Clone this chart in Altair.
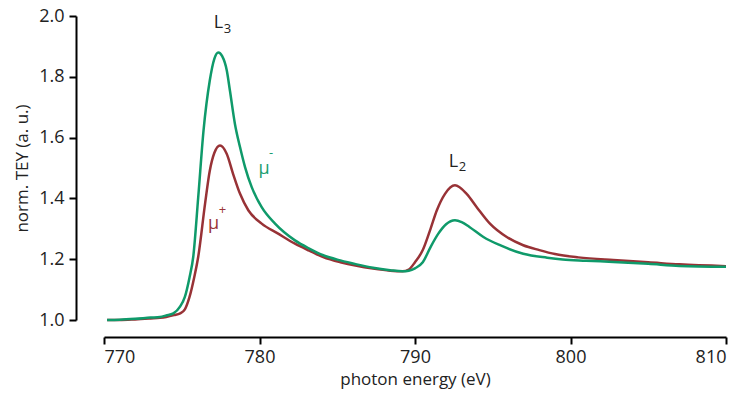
import altair as alt
import pandas as pd

# ---- data ----
energy_minus = [770.2, 771.0, 772.0, 773.0, 773.6, 774.0, 774.46, 774.9, 775.2, 775.5,
                775.74, 776.06, 776.4, 776.8, 777.1, 777.35, 777.6, 777.9, 778.1, 778.42,
                778.75, 779.07, 779.5, 780.14, 781.0, 782.28, 783.2, 784.1, 785.2, 786.25,
                787.3, 788.4, 789.2, 789.6, 790.0, 790.5, 791.0, 791.5, 792.0, 792.57,
                793.0, 793.5, 794.4, 795.47, 796.96, 798.5, 799.5, 801.0, 802.75, 805.0,
                807.0, 810.0]
mu_minus = [1.000, 1.001, 1.004, 1.008, 1.010, 1.015, 1.022, 1.045, 1.076, 1.140,
            1.208, 1.404, 1.623, 1.787, 1.860, 1.880, 1.868, 1.820, 1.754, 1.645,
            1.568, 1.503, 1.437, 1.371, 1.317, 1.262, 1.235, 1.213, 1.196, 1.183,
            1.172, 1.164, 1.160, 1.162, 1.170, 1.190, 1.240, 1.284, 1.315, 1.328,
            1.322, 1.306, 1.273, 1.246, 1.218, 1.205, 1.199, 1.195, 1.191, 1.185,
            1.178, 1.175]

energy_plus = [770.2, 771.0, 772.0, 773.0, 773.6, 774.0, 774.5, 774.9, 775.2, 775.5,
               775.8, 776.06, 776.5, 776.8, 777.1, 777.46, 777.89, 778.3, 778.75, 779.28,
               780.14, 781.2, 782.28, 783.2, 784.1, 785.2, 786.25, 787.3, 788.4, 789.2,
               789.6, 790.0, 790.5, 791.0, 791.4, 791.93, 792.57, 793.32, 793.96, 794.82,
               795.9, 796.96, 798.0, 799.0, 800.5, 802.75, 805.0, 807.0, 810.0]
mu_plus = [1.000, 1.000, 1.002, 1.005, 1.007, 1.010, 1.016, 1.022, 1.035, 1.076,
           1.140, 1.208, 1.383, 1.490, 1.550, 1.574, 1.547, 1.481, 1.415, 1.361,
           1.317, 1.284, 1.251, 1.228, 1.207, 1.190, 1.178, 1.169, 1.162, 1.160,
           1.166, 1.190, 1.230, 1.300, 1.360, 1.415, 1.443, 1.415, 1.372, 1.317,
           1.273, 1.246, 1.230, 1.217, 1.206, 1.197, 1.190, 1.183, 1.177]

x_ticks = [770, 780, 790, 800, 810]
y_ticks = [1.0, 1.2, 1.4, 1.6, 1.8, 2.0]

# annotation texts (main glyph + small index)
main_text = ["L", "L", "μ", "μ"]
main_x = [777.36, 792.48, 780.29, 777.04]
main_y = [1.977, 1.521, 1.498, 1.316]
main_col = ["#222222", "#222222", "#1a9e70", "#9a3438"]

sub_text = ["3", "2", "-", "+"]
sub_x = [777.94, 793.06, 780.74, 777.62]
sub_y = [1.957, 1.503, 1.548, 1.361]
sub_col = ["#222222", "#222222", "#1a9e70", "#9a3438"]

GREEN = "#0f9a6a"
RED = "#983236"
FONT = "Open Sans"

df_m = pd.DataFrame({"energy": energy_minus, "tey": mu_minus})
df_p = pd.DataFrame({"energy": energy_plus, "tey": mu_plus})
df_main = pd.DataFrame({"x": main_x, "y": main_y, "t": main_text, "c": main_col})
df_sub = pd.DataFrame({"x": sub_x, "y": sub_y, "t": sub_text, "c": sub_col})

x_scale = alt.Scale(domain=[770, 810], nice=False)
y_scale = alt.Scale(domain=[1.0, 2.0], nice=False, zero=False)

x_axis = alt.Axis(title="photon energy (eV)", values=x_ticks, format="d", offset=17,
                  tickSize=7, titlePadding=5, labelPadding=4)
y_axis = alt.Axis(title="norm. TEY (a. u.)", values=y_ticks, format=".1f", offset=28,
                  tickSize=7, titlePadding=7, labelPadding=5)

red_line = alt.Chart(df_p).mark_line(color=RED, strokeWidth=2.5, interpolate="monotone").encode(
    x=alt.X("energy:Q", scale=x_scale, axis=x_axis),
    y=alt.Y("tey:Q", scale=y_scale, axis=y_axis),
)
green_line = alt.Chart(df_m).mark_line(color=GREEN, strokeWidth=2.5, interpolate="monotone").encode(
    x=alt.X("energy:Q", scale=x_scale),
    y=alt.Y("tey:Q", scale=y_scale),
)

main_lbl = alt.Chart(df_main).mark_text(font=FONT, fontSize=18, baseline="middle", align="center").encode(
    x=alt.X("x:Q", scale=x_scale),
    y=alt.Y("y:Q", scale=y_scale),
    text="t:N",
    color=alt.Color("c:N", scale=None),
)
sub_lbl = alt.Chart(df_sub).mark_text(font=FONT, fontSize=13, baseline="middle", align="center").encode(
    x=alt.X("x:Q", scale=x_scale),
    y=alt.Y("y:Q", scale=y_scale),
    text="t:N",
    color=alt.Color("c:N", scale=None),
)

chart = alt.layer(red_line, green_line, main_lbl, sub_lbl).properties(
    width=622, height=304,
    autosize=alt.AutoSizeParams(type="none"),
    padding={"left": 96, "top": 8, "right": 12, "bottom": 76},
).configure_view(stroke=None).configure_axis(
    grid=False, domainColor="#000000", domainWidth=2, tickColor="#000000", tickWidth=2,
    labelFont=FONT, labelFontSize=18, labelColor="#222222",
    titleFont=FONT, titleFontSize=17, titleFontWeight="normal", titleColor="#222222",
)

chart.save("out.html", embed_options={"renderer": "svg", "actions": False})
